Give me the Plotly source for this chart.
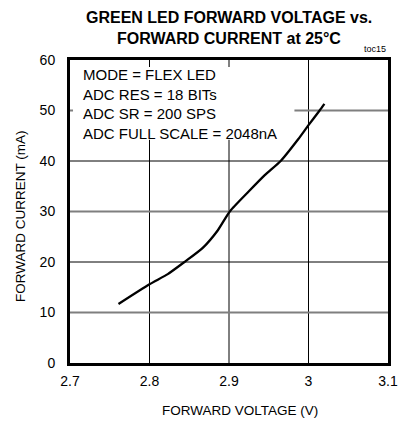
import plotly.graph_objects as go

voltage = [2.761, 2.80, 2.823, 2.844, 2.867, 2.886, 2.901, 2.925, 2.945, 2.965, 2.987, 3.0, 3.014, 3.02]
current = [11.7, 15.6, 17.6, 20.0, 22.8, 26.3, 30.0, 34.0, 37.2, 40.0, 44.3, 47.1, 50.0, 51.3]

x_ticks = [2.7, 2.8, 2.9, 3.0, 3.1]
x_labels = ["2.7", "2.8", "2.9", "3", "3.1"]
y_ticks = [0, 10, 20, 30, 40, 50, 60]
y_grid = [10, 20, 30, 40, 50]
y_grid_colors = ["#7f7f7f", "#000000", "#7f7f7f", "#000000", "#7f7f7f"]

info_lines = ["MODE = FLEX LED", "ADC RES = 18 BITs", "ADC SR = 200 SPS", "ADC FULL SCALE = 2048nA"]

X0, X1 = x_ticks[0], x_ticks[-1]
Y0, Y1 = y_ticks[0], y_ticks[-1]

fig = go.Figure()
# grid lines
for xv in x_ticks[1:-1]:
    fig.add_trace(go.Scatter(x=[xv, xv], y=[Y0, Y1], mode="lines", line=dict(color="black", width=1),
                             showlegend=False, hoverinfo="skip"))
for yv, col in zip(y_grid, y_grid_colors):
    fig.add_trace(go.Scatter(x=[X0, X1], y=[yv, yv], mode="lines",
                             line=dict(color=col, width=2 if col != "#000000" else 1),
                             showlegend=False, hoverinfo="skip"))

# white backing behind the info text (covers grid lines)
bx0, bx1, by0, by1 = 2.7038, 2.9823, 44.2, 58.6
fig.add_trace(go.Scatter(x=[bx0, bx1, bx1, bx0, bx0], y=[by0, by0, by1, by1, by0], mode="lines",
                         fill="toself", fillcolor="white", line=dict(width=0, color="white"),
                         showlegend=False, hoverinfo="skip"))

fig.add_trace(go.Scatter(x=voltage, y=current, mode="lines",
                         line=dict(color="black", width=2.3, shape="spline", smoothing=0.6),
                         showlegend=False, hoverinfo="skip"))

tick_font = dict(family="Liberation Sans Narrow, Arial Narrow, sans-serif", size=14, color="black")
title_font = dict(family="Liberation Sans Narrow, Arial Narrow, sans-serif", size=16, color="black")
label_font = dict(family="Liberation Sans, Arial, sans-serif", size=13.5, color="black")

# page body has an 8px margin, so the figure is made 8px smaller and margins shifted
fig.update_layout(
    width=399, height=414,
    margin=dict(l=62, r=19, t=52, b=59),
    paper_bgcolor="white", plot_bgcolor="white",
    font=dict(family="Liberation Sans, Arial, sans-serif", color="black", size=12),
    xaxis=dict(range=[X0, X1], tickvals=x_ticks, ticktext=x_labels, showgrid=False, zeroline=False,
               showline=True, mirror=True, linecolor="black", linewidth=3,
               ticks="", automargin=False, ticklabelstandoff=3, tickfont=tick_font),
    yaxis=dict(range=[Y0, Y1], tickvals=y_ticks, showgrid=False, zeroline=False,
               showline=True, mirror=True, linecolor="black", linewidth=3,
               ticks="", automargin=False, ticklabelstandoff=9, tickfont=tick_font),
    annotations=[
        dict(text="<b>GREEN LED FORWARD VOLTAGE vs.</b>", xref="paper", yref="paper",
             x=0.50, y=1.0 + 42 / 303, xanchor="center", yanchor="middle", showarrow=False,
             font=title_font),
        dict(text="<b>FORWARD CURRENT at 25°C</b>", xref="paper", yref="paper",
             x=0.50, y=1.0 + 22 / 303, xanchor="center", yanchor="middle", showarrow=False,
             font=title_font),
        dict(text="<br>".join(info_lines), xref="paper", yref="paper", x=(82 - 70) / 318, y=0.985,
             xanchor="left", yanchor="top", align="left", showarrow=False, borderpad=0,
             font=dict(family="Liberation Sans, Arial, sans-serif", size=15, color="black")),
        dict(text="toc15", xref="paper", yref="paper", x=1.0, y=1.012, xanchor="right", yanchor="bottom",
             showarrow=False, font=dict(size=9, color="black")),
        dict(text="FORWARD VOLTAGE (V)", xref="paper", yref="paper", x=(240 - 70) / 318,
             y=(363 - 410) / 303, xanchor="center", yanchor="middle", showarrow=False, font=label_font),
        dict(text="FORWARD CURRENT (mA)", xref="paper", yref="paper", x=(20 - 70) / 318,
             y=(363 - 216) / 303, xanchor="center", yanchor="middle", showarrow=False,
             textangle=-90, font=label_font),
    ],
)

fig.write_html("out.html")
